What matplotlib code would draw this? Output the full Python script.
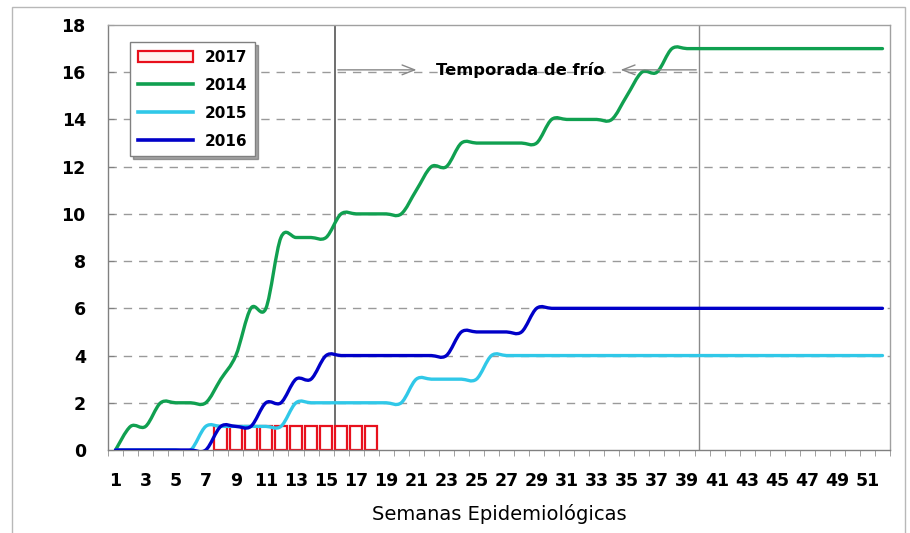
import numpy as np
import matplotlib
matplotlib.use("Agg")
import matplotlib.pyplot as plt
from matplotlib.path import Path
from matplotlib.patches import PathPatch, Rectangle
from matplotlib.lines import Line2D

weeks = list(range(1, 53))
s2014 = [0, 1, 1, 2, 2, 2, 2, 3, 4, 6, 6, 9, 9, 9, 9, 10, 10, 10, 10, 10,
         11, 12, 12, 13, 13, 13, 13, 13, 13, 14, 14, 14, 14, 14, 15, 16, 16, 17] + [17] * 14
s2015 = [0] * 6 + [1] * 6 + [2] * 8 + [3] * 5 + [4] * 27
s2016 = [0] * 7 + [1] * 3 + [2, 2, 3, 3] + [4] * 9 + [5] * 5 + [6] * 24
weeks2017 = list(range(8, 19))
s2017 = [1] * 11
xticks = list(range(1, 52, 2))
yticks = list(range(0, 19, 2))
season_start, season_end = 15.6, 39.8

c2014 = "#10A050"
c2015 = "#30C8E8"
c2016 = "#0000C8"
c2017 = "#E8101C"

fig = plt.figure(figsize=(9.10, 5.33), dpi=100)
ax = fig.add_axes([108 / 910, 1 - 450 / 533, 782 / 910, 425 / 533])

# outer frame
fig.patches.append(Rectangle((12 / 910, -0.05), 893 / 910, 1 - 7 / 533 + 0.05,
                             transform=fig.transFigure, fill=False,
                             edgecolor="#B8B8B8", lw=1.0, zorder=0))

ax.set_xlim(0.5, 52.5)
ax.set_ylim(0, 18)

# grid
for y in yticks[1:-1]:
    ax.axhline(y, color="#9A9A9A", lw=1.0, ls=(0, (6, 5)), zorder=0)

# 2017 bars
ax.bar(weeks2017, s2017, width=0.84, facecolor="white", edgecolor=c2017,
       lw=1.6, zorder=2)


def smooth_path(xs, ys):
    pts = np.column_stack([xs, ys]).astype(float)
    n = len(pts)
    verts = [pts[0]]
    codes = [Path.MOVETO]
    for i in range(n - 1):
        p0 = pts[i - 1] if i > 0 else pts[i]
        p1 = pts[i]
        p2 = pts[i + 1]
        p3 = pts[i + 2] if i + 2 < n else pts[i + 1]
        c1 = p1 + (p2 - p0) / 6.0
        c2 = p2 - (p3 - p1) / 6.0
        verts += [c1, c2, p2]
        codes += [Path.CURVE4] * 3
    return Path(verts, codes)


for vals, col in [(s2014, c2014), (s2015, c2015), (s2016, c2016)]:
    ax.add_patch(PathPatch(smooth_path(weeks, vals), facecolor="none",
                           edgecolor=col, lw=2.4, zorder=3,
                           capstyle="round", joinstyle="round"))

# season lines
ax.axvline(season_start, color="#555555", lw=1.2, zorder=1)
ax.axvline(season_end, color="#8A8A8A", lw=1.0, zorder=1)
ax.annotate("", xy=(21.2, 16.1), xytext=(season_start, 16.1),
            arrowprops=dict(arrowstyle="->,head_length=0.9,head_width=0.35",
                            color="#888888", lw=1.0))
ax.annotate("", xy=(34.4, 16.1), xytext=(season_end, 16.1),
            arrowprops=dict(arrowstyle="->,head_length=0.9,head_width=0.35",
                            color="#888888", lw=1.0))
ax.text(27.9, 16.1, "Temporada de frío", ha="center", va="center",
        fontsize=11.8, fontweight="bold", color="black", zorder=4)

# axes styling
for sp in ax.spines.values():
    sp.set_color("#A0A0A0")
    sp.set_linewidth(1.0)
ax.spines["bottom"].set_color("#808080")
ax.spines["left"].set_color("#808080")

ax.set_yticks(yticks)
ax.set_yticklabels([str(v) for v in yticks], fontsize=12.5, fontweight="bold")
ax.tick_params(axis="y", length=4, direction="in", color="#808080", pad=16)

ax.set_xticks(xticks)
ax.set_xticklabels([str(v) for v in xticks], fontsize=12.5, fontweight="bold")
ax.set_xticks(np.arange(0.5, 53, 1), minor=True)
ax.tick_params(axis="x", which="major", length=0, pad=16)
ax.tick_params(axis="x", which="minor", length=4, color="#909090", direction="out")
ax.set_xlabel("Semanas Epidemiológicas", fontsize=14, labelpad=10)

handles = [
    Rectangle((0, 0), 1, 1, facecolor="#FFF4F0", edgecolor=c2017, lw=1.6),
    Line2D([], [], color=c2014, lw=2.6),
    Line2D([], [], color=c2015, lw=2.6),
    Line2D([], [], color=c2016, lw=2.6),
]
leg = ax.legend(handles, ["2017", "2014", "2015", "2016"],
                loc="upper left", bbox_to_anchor=(0.028, 0.96),
                borderaxespad=0.0,
                handlelength=3.6, handleheight=0.7,
                labelspacing=0.85, borderpad=0.5, fancybox=False,
                shadow=True, framealpha=1, edgecolor="#808080",
                prop=dict(weight="bold", size=11))
leg.get_frame().set_linewidth(1.0)

fig.savefig("out.png", dpi=100)
